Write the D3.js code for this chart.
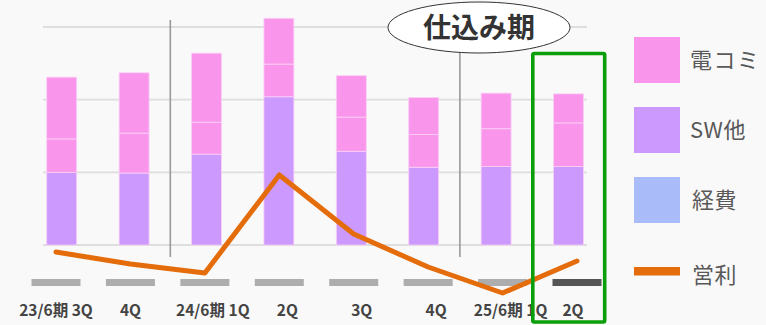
<!DOCTYPE html>
<html>
<head>
<meta charset="utf-8">
<script src="https://cdn.jsdelivr.net/npm/d3@7/dist/d3.min.js"></script>
<style>
  html, body { margin: 0; padding: 0; background: #f9f9f9; }
  svg { display: block; font-family: "Noto Sans CJK JP", "Noto Sans", sans-serif; }
</style>
</head>
<body>
<svg id="chart" width="766" height="325"></svg>
<script>
// Quarters
const categories = ["23/6期 3Q", "4Q", "24/6期 1Q", "2Q", "3Q", "4Q", "25/6期 1Q", "2Q"];
// Stacked segments (bottom to top)
const swValues      = [100, 99, 125, 204, 129, 107, 108, 108];   // SW他
const denkomiLower  = [ 46, 55,  44,  45,  47,  45,  52,  60];   // 電コミ (lower block)
const denkomiUpper  = [ 85, 83,  95,  63,  57,  51,  49,  40];   // 電コミ (upper block)
// 営利 (secondary scale)
const profitValues  = [ 48, 36,  27, 125,  66,  33,   7,  39];
const gridTicks = [0, 100, 200, 300];
const legendItems = [
  { name: "電コミ", color: "#f996ec", type: "box" },
  { name: "SW他",  color: "#cc99ff", type: "box" },
  { name: "経費",  color: "#a9bcf9", type: "box" },
  { name: "営利",  color: "#e46c0a", type: "line" }
];
const calloutText = "仕込み期";

const svg = d3.select("#chart");
svg.append("rect").attr("width", 766).attr("height", 325).attr("fill", "#f9f9f9");

const x = d3.scaleBand().domain(d3.range(categories.length))
  .range([25.5, 604.7]).paddingInner(0.586).paddingOuter(0.293);
const y = d3.scaleLinear().domain([0, 300]).range([245, 27]);
const xLine = d3.scalePoint().domain(d3.range(categories.length)).range([56, 577]);
const yLine = d3.scaleLinear().domain([0, 100]).range([300, 200]);

// gridlines
svg.append("g").selectAll("line").data(gridTicks).join("line")
  .attr("x1", 43).attr("x2", 587)
  .attr("y1", d => y(d)).attr("y2", d => y(d))
  .attr("stroke", "#dedede").attr("stroke-width", 1.8);

// stacked bars
const rows = categories.map((c, i) => ({ i, sw: swValues[i], lo: denkomiLower[i], up: denkomiUpper[i] }));
const stack = d3.stack().keys(["sw", "lo", "up"])(rows);
const segColor = { sw: "#cc99ff", lo: "#f996ec", up: "#f996ec" };
svg.append("g").selectAll("g").data(stack).join("g")
  .attr("fill", d => segColor[d.key])
  .selectAll("rect").data(d => d).join("rect")
  .attr("x", d => x(d.data.i))
  .attr("width", x.bandwidth())
  .attr("y", d => y(d[1]))
  .attr("height", d => y(d[0]) - y(d[1]))
  .attr("stroke", "#fbd0f6").attr("stroke-width", 0.8);

// period separators
const gap = x.step() - x.bandwidth();
[2, 6].forEach(k => {
  svg.append("line")
    .attr("x1", x(k) - gap / 2).attr("x2", x(k) - gap / 2)
    .attr("y1", 20).attr("y2", 257)
    .attr("stroke", "#999").attr("stroke-width", 1.6);
});

// axis markers
svg.append("g").selectAll("rect").data(categories).join("rect")
  .attr("x", (d, i) => xLine(i) - 24.5)
  .attr("y", 279).attr("width", 49).attr("height", 7)
  .attr("fill", (d, i) => i === categories.length - 1 ? "#555" : "#adadad");

// category labels (labels from the second fiscal year on sit a little to the right)
const last = categories.length - 1;
svg.append("g").selectAll("text").data(categories).join("text")
  .attr("x", (d, i) => xLine(i) + (i >= 2 && i < last ? 8 : (i === last ? -4 : 0)))
  .attr("y", 316)
  .attr("text-anchor", "middle")
  .attr("font-size", 15.5).attr("font-weight", "bold")
  .attr("fill", "#444")
  .text(d => d);

// profit line
svg.append("path")
  .datum(profitValues)
  .attr("d", d3.line().x((d, i) => xLine(i)).y(d => yLine(d)))
  .attr("fill", "none").attr("stroke", "#e46c0a")
  .attr("stroke-width", 5).attr("stroke-linejoin", "round").attr("stroke-linecap", "round");

// highlight box around latest quarter
svg.append("rect")
  .attr("x", x(last) + x.bandwidth() / 2 - x.step() / 2 + 0.5)
  .attr("y", 53.5).attr("width", x.step() - 0.5).attr("height", 268.5)
  .attr("rx", 1.5)
  .attr("fill", "none").attr("stroke", "#0a9e0a").attr("stroke-width", 3.6);

// callout
const co = svg.append("g").attr("transform", "translate(479,27.5)");
co.append("ellipse").attr("rx", 91).attr("ry", 25.5)
  .attr("fill", "#fff").attr("stroke", "#333").attr("stroke-width", 1);
co.append("text").attr("y", 10).attr("text-anchor", "middle")
  .attr("font-size", 28).attr("font-weight", "bold").attr("fill", "#333")
  .text(calloutText);

// legend
const lg = svg.append("g").attr("transform", "translate(634,37)");
legendItems.forEach((d, i) => {
  const g = lg.append("g").attr("transform", `translate(0,${i * 70})`);
  if (d.type === "box") {
    g.append("rect").attr("width", 46).attr("height", 46).attr("fill", d.color);
  } else {
    g.append("rect").attr("y", 20).attr("width", 46).attr("height", 8.5).attr("fill", d.color);
  }
  g.append("text").attr("x", i >= 2 ? 58 : 56).attr("y", 23 + (i === 3 ? 5 : 0)).attr("dy", "0.35em")
    .attr("font-size", 22).attr("letter-spacing", i === 0 ? 1.5 : 0.5)
    .attr("fill", "#595959").text(d.name);
});
</script>
</body>
</html>
